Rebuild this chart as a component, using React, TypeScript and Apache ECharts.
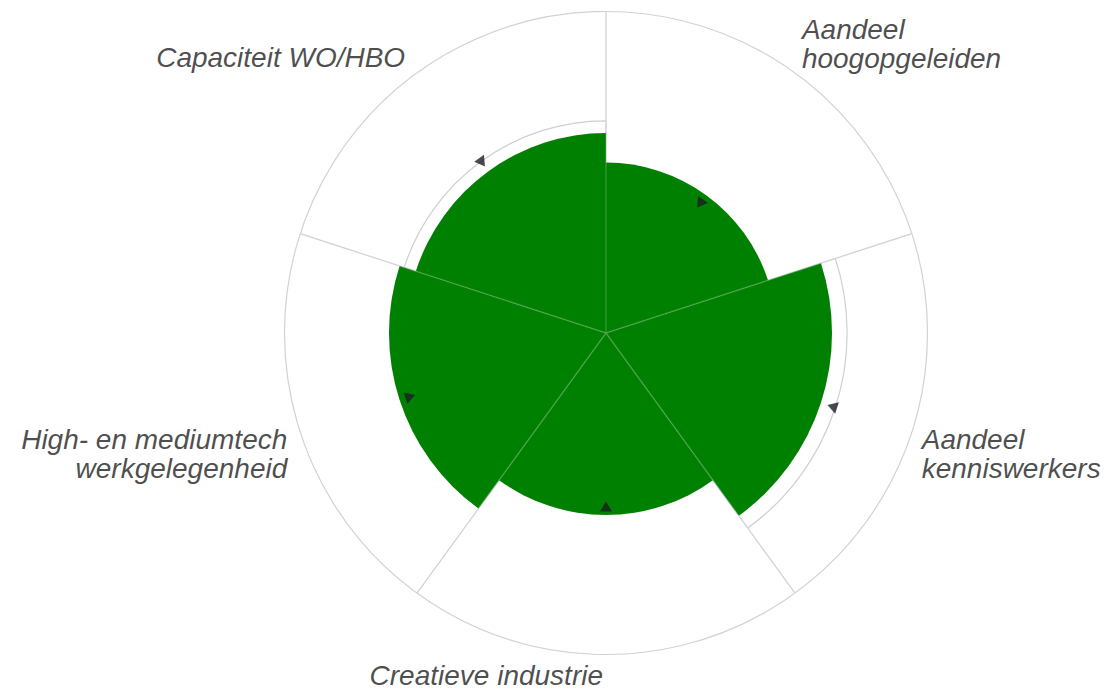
import React, { useEffect, useRef } from "react";
import * as echarts from "echarts";

const categories = [
  "Aandeel hoogopgeleiden",
  "Aandeel kenniswerkers",
  "Creatieve industrie",
  "High- en mediumtech werkgelegenheid",
  "Capaciteit WO/HBO",
];
const categoryLabels = [
  "Aandeel\nhoogopgeleiden",
  "Aandeel\nkenniswerkers",
  "Creatieve industrie",
  "High- en mediumtech\nwerkgelegenheid",
  "Capaciteit WO/HBO",
];
const values = [53, 70.3, 56.6, 67.5, 62.2];
const outlineValues = [50, 75, 54, 64, 66];
const markerValues = [49.8, 74, 54, 64, 65.6];
const axisMax = 100;

// layout / styling (not data)
const CX = 606;
const CY = 333;
const R = 321.5;
const LABEL_R = 102.6;
const labelOffsets: [number, number][] = [
  [2, 7],
  [2, -10],
  [-3, -2],
  [-5, -10],
  [-7, 6],
];

export default function App() {
  const ref = useRef<HTMLDivElement>(null);
  useEffect(() => {
    if (!ref.current) return;
    const chart = echarts.init(ref.current, undefined, { renderer: "svg" });
    const n = categories.length;
    const angleOf = (i: number) => (i + 0.5) * (360 / n);

    const markerData = markerValues.map((v, i) => ({
      value: [v, i],
      symbolRotate: 180 - angleOf(i),
    }));
    const labelData = categoryLabels.map((t, i) => {
      const a = (angleOf(i) * Math.PI) / 180;
      const s = Math.sin(a);
      const c = Math.cos(a);
      return {
        value: [LABEL_R, i],
        name: t,
        label: {
          align: s > 0.05 ? "left" : "right",
          verticalAlign: c > 0 ? "bottom" : "top",
          offset: labelOffsets[i],
        },
      };
    });

    chart.setOption({
      animation: false,
      backgroundColor: "#ffffff",
      polar: [
        { center: [CX, CY], radius: R },
        { center: [CX, CY], radius: R },
      ],
      angleAxis: [
        {
          polarIndex: 0,
          type: "category",
          data: categories,
          startAngle: 90,
          clockwise: true,
          boundaryGap: true,
          axisLine: { show: true, lineStyle: { color: "#d2d2d2", width: 1.2 } },
          axisTick: { show: false },
          axisLabel: { show: false },
          splitLine: { show: true, lineStyle: { color: "#c8c8c8", width: 1.2 } },
          z: 0,
        },
        {
          polarIndex: 1,
          type: "category",
          data: categories,
          startAngle: 90,
          clockwise: true,
          boundaryGap: true,
          axisLine: { show: false },
          axisTick: { show: false },
          axisLabel: { show: false },
          splitLine: { show: true, lineStyle: { color: "rgba(255,255,255,0.18)", width: 1.5 } },
          z: 10,
        },
      ],
      radiusAxis: [
        { polarIndex: 0, min: 0, max: axisMax, show: false },
        { polarIndex: 1, min: 0, max: axisMax, show: false },
      ],
      series: [
        {
          type: "bar",
          coordinateSystem: "polar",
          polarIndex: 0,
          data: outlineValues,
          barGap: "-100%",
          barCategoryGap: "0%",
          itemStyle: {
            color: "rgba(0,0,0,0)",
            borderColor: "#d3ccd8",
            borderWidth: 1.2,
          },
          z: 1,
          silent: true,
        },
        {
          type: "bar",
          coordinateSystem: "polar",
          polarIndex: 0,
          data: values,
          barGap: "-100%",
          barCategoryGap: "0%",
          itemStyle: { color: "#008000" },
          z: 2,
        },
        {
          type: "scatter",
          coordinateSystem: "polar",
          polarIndex: 0,
          data: markerData,
          symbol: "triangle",
          symbolSize: [12, 10],
          itemStyle: { color: "#1b1b26" },
          z: 12,
          clip: false,
        },
        {
          type: "scatter",
          coordinateSystem: "polar",
          polarIndex: 0,
          data: labelData,
          symbolSize: 0,
          clip: false,
          silent: true,
          z: 12,
          label: {
            show: true,
            position: "inside",
            formatter: (p: any) => p.name,
            fontFamily: "Liberation Sans",
            fontStyle: "italic",
            fontSize: 28,
            lineHeight: 29,
            color: "#1e1e1e",
          },
        },
      ],
    });
    return () => chart.dispose();
  }, []);
  return (
    <div
      ref={ref}
      style={{ position: "absolute", left: 0, top: 0, width: 1118, height: 691 }}
    />
  );
}
